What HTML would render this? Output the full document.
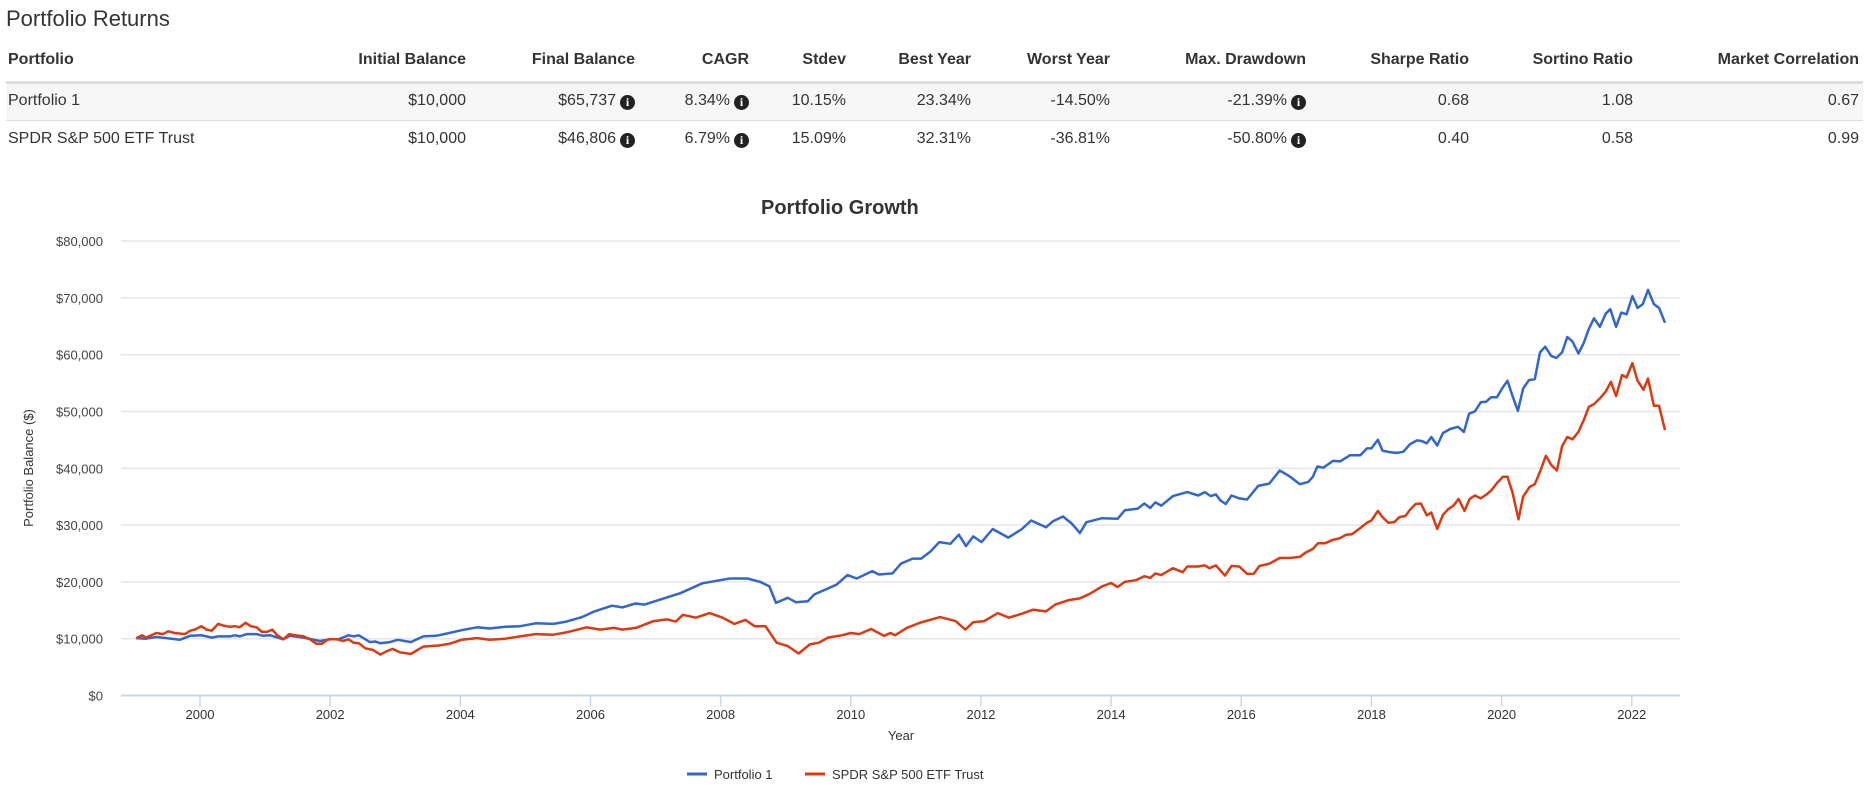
<!DOCTYPE html>
<html><head><meta charset="utf-8">
<style>
body{margin:0;width:1869px;height:788px;background:#fff;font-family:"Liberation Sans",Arial,sans-serif;color:#333;position:relative;overflow:hidden}
.t{position:absolute;white-space:nowrap;font-size:16px;line-height:20px}
.h{font-weight:bold;color:#333}
.r{text-align:right}
.i{display:inline-block;width:15px;height:15px;border-radius:50%;background:#222;color:#fff;font-size:12px;line-height:15px;text-align:center;font-weight:bold;font-family:"Liberation Serif",serif;vertical-align:-1px;margin-left:4px}
</style></head><body>
<div class="t" style="left:6px;top:6px;font-size:22px;line-height:26px;color:#333">Portfolio Returns</div>
<div style="position:absolute;left:6px;top:0;width:1857px;height:160px">
<div style="position:absolute;left:0;top:81px;width:1857px;height:3px;background:#ddd"></div>
<div style="position:absolute;left:0;top:84px;width:1857px;height:36px;background:#f7f7f7;border-bottom:1px solid #ddd"></div>
<div style="position:absolute;left:0;top:121px;width:1857px;height:38px;background:#fff"></div>
</div>
<div class="t h" style="left:8px;top:50px">Portfolio</div>
<div class="t h r" style="right:1403px;top:50px">Initial Balance</div>
<div class="t h r" style="right:1234px;top:50px">Final Balance</div>
<div class="t h r" style="right:1120px;top:50px">CAGR</div>
<div class="t h r" style="right:1023px;top:50px">Stdev</div>
<div class="t h r" style="right:898px;top:50px">Best Year</div>
<div class="t h r" style="right:759px;top:50px">Worst Year</div>
<div class="t h r" style="right:563px;top:50px">Max. Drawdown</div>
<div class="t h r" style="right:400px;top:50px">Sharpe Ratio</div>
<div class="t h r" style="right:236px;top:50px">Sortino Ratio</div>
<div class="t h r" style="right:10px;top:50px">Market Correlation</div>
<div class="t" style="left:8px;top:91px">Portfolio 1</div>
<div class="t r" style="right:1403px;top:91px">$10,000</div>
<div class="t r" style="right:1234px;top:91px">$65,737<span class="i">i</span></div>
<div class="t r" style="right:1120px;top:91px">8.34%<span class="i">i</span></div>
<div class="t r" style="right:1023px;top:91px">10.15%</div>
<div class="t r" style="right:898px;top:91px">23.34%</div>
<div class="t r" style="right:759px;top:91px">-14.50%</div>
<div class="t r" style="right:563px;top:91px">-21.39%<span class="i">i</span></div>
<div class="t r" style="right:400px;top:91px">0.68</div>
<div class="t r" style="right:236px;top:91px">1.08</div>
<div class="t r" style="right:10px;top:91px">0.67</div>
<div class="t" style="left:8px;top:129px">SPDR S&amp;P 500 ETF Trust</div>
<div class="t r" style="right:1403px;top:129px">$10,000</div>
<div class="t r" style="right:1234px;top:129px">$46,806<span class="i">i</span></div>
<div class="t r" style="right:1120px;top:129px">6.79%<span class="i">i</span></div>
<div class="t r" style="right:1023px;top:129px">15.09%</div>
<div class="t r" style="right:898px;top:129px">32.31%</div>
<div class="t r" style="right:759px;top:129px">-36.81%</div>
<div class="t r" style="right:563px;top:129px">-50.80%<span class="i">i</span></div>
<div class="t r" style="right:400px;top:129px">0.40</div>
<div class="t r" style="right:236px;top:129px">0.58</div>
<div class="t r" style="right:10px;top:129px">0.99</div>

<svg id="chart" width="1869" height="788" style="position:absolute;left:0;top:0" xmlns="http://www.w3.org/2000/svg" font-family="Liberation Sans, Arial, sans-serif"></svg>

<script>
const p1Years=[1999.02,1999.17,1999.33,1999.48,1999.69,1999.85,2000.03,2000.18,2000.28,2000.46,2000.54,2000.61,2000.72,2000.87,2000.97,2001.08,2001.28,2001.38,2001.59,2001.84,2002.0,2002.13,2002.28,2002.36,2002.44,2002.61,2002.69,2002.77,2002.92,2003.04,2003.24,2003.43,2003.63,2003.83,2004.02,2004.26,2004.45,2004.69,2004.92,2005.16,2005.43,2005.63,2005.87,2006.06,2006.33,2006.49,2006.69,2006.83,2007.38,2007.72,2008.14,2008.41,2008.61,2008.75,2008.85,2009.03,2009.16,2009.34,2009.44,2009.78,2009.95,2010.09,2010.33,2010.43,2010.64,2010.77,2010.95,2011.08,2011.22,2011.36,2011.53,2011.66,2011.77,2011.88,2012.01,2012.18,2012.42,2012.63,2012.77,2013.0,2013.11,2013.26,2013.40,2013.52,2013.62,2013.86,2014.10,2014.21,2014.41,2014.51,2014.60,2014.68,2014.77,2014.95,2015.17,2015.34,2015.44,2015.53,2015.61,2015.68,2015.76,2015.85,2015.97,2016.09,2016.26,2016.43,2016.59,2016.74,2016.90,2017.03,2017.10,2017.17,2017.26,2017.41,2017.52,2017.67,2017.83,2017.93,2018.00,2018.10,2018.17,2018.29,2018.39,2018.49,2018.59,2018.70,2018.77,2018.85,2018.92,2019.01,2019.10,2019.21,2019.33,2019.42,2019.50,2019.59,2019.68,2019.76,2019.84,2019.93,2020.01,2020.09,2020.16,2020.25,2020.33,2020.42,2020.51,2020.59,2020.67,2020.76,2020.84,2020.93,2021.01,2021.09,2021.18,2021.26,2021.34,2021.42,2021.51,2021.60,2021.67,2021.76,2021.84,2021.92,2022.01,2022.09,2022.17,2022.25,2022.34,2022.42,2022.51];
const p1Values=[10.1,10.0,10.3,10.1,9.8,10.5,10.6,10.2,10.4,10.4,10.6,10.4,10.8,10.8,10.5,10.6,9.9,10.5,10.2,9.6,9.9,9.9,10.6,10.4,10.6,9.4,9.5,9.2,9.4,9.8,9.4,10.4,10.5,11.0,11.5,12.0,11.8,12.1,12.2,12.7,12.6,13.0,13.8,14.8,15.8,15.5,16.2,16.0,18.0,19.75,20.6,20.6,20.0,19.2,16.3,17.2,16.4,16.6,17.8,19.5,21.2,20.6,21.9,21.3,21.5,23.2,24.1,24.1,25.3,27.0,26.7,28.3,26.3,28.0,27.0,29.3,27.8,29.3,30.8,29.6,30.7,31.5,30.2,28.6,30.5,31.2,31.1,32.6,32.9,33.8,33.0,34.0,33.4,35.1,35.8,35.2,35.8,35.1,35.4,34.3,33.7,35.2,34.7,34.5,36.9,37.3,39.6,38.6,37.2,37.6,38.5,40.3,40.1,41.3,41.2,42.3,42.3,43.5,43.5,45.0,43.1,42.8,42.7,42.9,44.2,44.9,44.8,44.4,45.5,44.0,46.2,46.9,47.3,46.4,49.6,50.0,51.6,51.7,52.5,52.5,54.1,55.4,53.0,50.1,54.0,55.5,55.7,60.4,61.4,59.8,59.4,60.4,63.1,62.3,60.2,62.0,64.5,66.4,64.9,67.2,68.0,64.9,67.4,67.1,70.3,68.2,68.9,71.4,68.9,68.2,65.6];
const spyYears=[1999.02,1999.11,1999.17,1999.33,1999.43,1999.51,1999.61,1999.77,1999.85,1999.92,2000.02,2000.10,2000.18,2000.28,2000.36,2000.46,2000.54,2000.61,2000.70,2000.78,2000.87,2000.95,2001.03,2001.11,2001.19,2001.28,2001.37,2001.46,2001.59,2001.69,2001.79,2001.87,2001.97,2002.10,2002.20,2002.28,2002.36,2002.44,2002.54,2002.66,2002.77,2002.87,2002.96,2003.07,2003.24,2003.43,2003.67,2003.83,2004.02,2004.26,2004.45,2004.69,2004.92,2005.16,2005.43,2005.63,2005.94,2006.15,2006.36,2006.49,2006.70,2006.97,2007.18,2007.31,2007.42,2007.62,2007.83,2008.03,2008.21,2008.38,2008.52,2008.69,2008.86,2009.03,2009.20,2009.37,2009.51,2009.65,2009.86,2010.0,2010.13,2010.31,2010.51,2010.61,2010.68,2010.86,2011.06,2011.37,2011.61,2011.76,2011.88,2012.05,2012.26,2012.43,2012.63,2012.80,2013.0,2013.14,2013.35,2013.52,2013.69,2013.86,2014.0,2014.10,2014.21,2014.38,2014.51,2014.60,2014.68,2014.77,2014.95,2015.10,2015.17,2015.34,2015.44,2015.51,2015.61,2015.75,2015.85,2015.97,2016.09,2016.19,2016.28,2016.43,2016.59,2016.74,
2016.90,2016.98,2017.10,2017.18,2017.29,2017.41,2017.52,2017.61,2017.70,2017.82,2017.93,2018.00,2018.10,2018.17,2018.26,2018.35,2018.43,2018.52,2018.60,2018.68,2018.76,2018.85,2018.92,2019.01,2019.10,2019.18,2019.26,2019.34,2019.43,2019.51,2019.59,2019.68,2019.77,2019.85,2019.93,2020.02,2020.09,2020.17,2020.26,2020.33,2020.43,2020.51,2020.59,2020.68,2020.76,2020.85,2020.93,2021.01,2021.09,2021.18,2021.26,2021.34,2021.42,2021.51,2021.60,2021.68,2021.76,2021.85,2021.92,2022.01,2022.09,2022.18,2022.25,2022.34,2022.42,2022.51];
const spyValues=[10.1,10.6,10.2,11.0,10.8,11.3,11.0,10.8,11.4,11.6,12.2,11.6,11.4,12.6,12.3,12.1,12.2,12.0,12.8,12.2,12.0,11.2,11.2,11.6,10.6,9.9,10.8,10.6,10.4,9.9,9.1,9.1,9.9,9.9,9.6,9.9,9.3,9.2,8.3,8.0,7.2,7.8,8.2,7.6,7.3,8.6,8.8,9.1,9.8,10.1,9.8,10.0,10.4,10.8,10.7,11.1,12.0,11.6,11.9,11.6,11.9,13.1,13.4,13.0,14.2,13.7,14.5,13.7,12.6,13.3,12.2,12.2,9.3,8.7,7.4,9.0,9.3,10.2,10.6,11.0,10.8,11.7,10.5,11.0,10.6,11.9,12.8,13.8,13.1,11.6,12.9,13.1,14.5,13.7,14.4,15.1,14.8,16.0,16.8,17.1,18.0,19.2,19.8,19.1,20.0,20.3,21.0,20.7,21.5,21.2,22.4,21.7,22.7,22.7,22.9,22.4,22.9,21.1,22.8,22.7,21.4,21.4,22.8,23.2,24.2,24.2,
24.4,25.1,25.8,26.8,26.8,27.4,27.7,28.3,28.4,29.4,30.4,30.8,32.5,31.4,30.4,30.5,31.4,31.6,32.8,33.7,33.8,31.7,32.2,29.3,31.8,32.8,33.4,34.6,32.5,34.6,35.2,34.7,35.4,36.2,37.4,38.5,38.5,35.6,31.0,35.0,36.7,37.2,39.4,42.2,40.6,39.6,43.9,45.5,45.1,46.4,48.4,50.8,51.3,52.3,53.5,55.2,52.7,56.4,56.0,58.5,55.4,53.8,55.8,51.0,51.0,46.7];
const yTicks=[0,10,20,30,40,50,60,70,80];
const yTickLabels=["$0","$10,000","$20,000","$30,000","$40,000","$50,000","$60,000","$70,000","$80,000"];
const xTicks=[2000,2002,2004,2006,2008,2010,2012,2014,2016,2018,2020,2022];
const seriesNames=["Portfolio 1","SPDR S&P 500 ETF Trust"];

const NS="http://www.w3.org/2000/svg";
const svg=document.getElementById('chart');
const L=121,R=1680,Y0=695.5,Y80=241;
function xs(y){return 200+(y-2000)*65.08;}
function ys(v){return Y0-(v/80)*(Y0-Y80);}
function mk(tag,attrs){const e=document.createElementNS(NS,tag);for(const k in attrs)e.setAttribute(k,attrs[k]);svg.appendChild(e);return e;}

yTicks.forEach((t,i)=>{
  const y=ys(t);
  const g=mk('line',{x1:L,x2:R,y1:y,y2:y,stroke:i===0?'#ccd6eb':'#e6e6e6','stroke-width':i===0?2:1.5});
  
  
  const tx=mk('text',{x:103,y:y+5,'text-anchor':'end','font-size':13,fill:'#444'});
  tx.textContent=yTickLabels[i];
  
  
});
xTicks.forEach(t=>{
  const x=xs(t);
  const tk=mk('line',{x1:x,x2:x,y1:Y0,y2:Y0+11,stroke:'#ccd6eb','stroke-width':1.5});
  
  
  const tx=mk('text',{x:x,y:719,'text-anchor':'middle','font-size':13,fill:'#333'});
  tx.textContent=String(t);
  
  
});
function series(years,vals,color,name){
  const n=Math.min(years.length,vals.length);
  let d='';
  for(let i=0;i<n;i++){d+=(i?'L':'M')+xs(years[i]).toFixed(1)+','+ys(vals[i]).toFixed(1);}
  const p=mk('path',{d:d,fill:'none',stroke:color,'stroke-width':2.5,'stroke-linejoin':'round'});
  
  
}
series(p1Years,p1Values,'#3366cc','portfolio-1-line');
series(spyYears,spyValues,'#dc3912','spdr-line');

const title=mk('text',{x:761,y:214,'font-size':20,'font-weight':'bold',fill:'#333'});
title.textContent='Portfolio Growth';


const yt=mk('text',{x:0,y:0,'font-size':13,fill:'#333','text-anchor':'middle',transform:'translate(33,468) rotate(-90)'});
yt.textContent='Portfolio Balance ($)';


const xt=mk('text',{x:901,y:740,'font-size':13,fill:'#333','text-anchor':'middle'});
xt.textContent='Year';



const legX=[687,805],legC=['#3366cc','#dc3912'];
seriesNames.forEach((n,i)=>{
  const ln=mk('line',{x1:legX[i],x2:legX[i]+20,y1:774,y2:774,stroke:legC[i],'stroke-width':3});
  
  
  const t=mk('text',{x:legX[i]+27,y:779,'font-size':13,fill:'#333'});
  t.textContent=n;
  
  
});
</script>
</body></html>
